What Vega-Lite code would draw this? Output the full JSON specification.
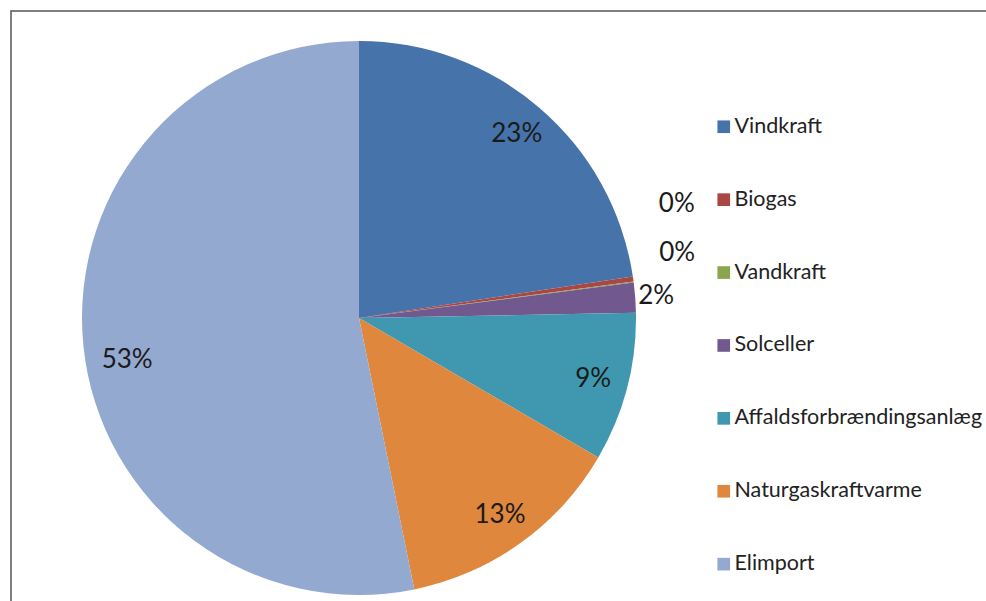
{
  "$schema": "https://vega.github.io/schema/vega-lite/v6.json",
  "autosize": "none",
  "width": 990,
  "height": 620,
  "padding": {"left": 11, "top": 11, "right": 0, "bottom": 0},
  "background": "white",
  "config": {
    "view": {"stroke": "#555555", "strokeWidth": 1.5},
    "font": "Lato",
    "text": {"font": "Lato"}
  },
  "data": {
    "values": [
      {"i": 1, "source": "Vindkraft", "share": 0.226},
      {"i": 2, "source": "Biogas", "share": 0.003},
      {"i": 3, "source": "Vandkraft", "share": 0.0005},
      {"i": 4, "source": "Solceller", "share": 0.0175},
      {"i": 5, "source": "Affaldsforbrændingsanlæg", "share": 0.087},
      {"i": 6, "source": "Naturgaskraftvarme", "share": 0.134},
      {"i": 7, "source": "Elimport", "share": 0.532}
    ]
  },
  "encoding": {
    "theta": {"field": "share", "type": "quantitative", "stack": true},
    "order": {"field": "i", "type": "quantitative"}
  },
  "layer": [
    {
      "mark": {"type": "arc", "outerRadius": 277, "stroke": null},
      "encoding": {
        "x": {"value": 348},
        "y": {"value": 307},
        "color": {
          "field": "source",
          "type": "nominal",
          "scale": {
            "domain": ["Vindkraft", "Biogas", "Vandkraft", "Solceller", "Affaldsforbrændingsanlæg", "Naturgaskraftvarme", "Elimport"],
            "range": ["#4673A9", "#AA4643", "#89A54E", "#71588F", "#3F98AF", "#DF873D", "#94A9D0"]
          },
          "legend": {
            "title": null,
            "orient": "none",
            "legendX": 702,
            "legendY": 105,
            "padding": 0,
            "symbolType": "square",
            "symbolSize": 160,
            "symbolStrokeWidth": 0,
            "labelFont": "Lato",
            "labelFontSize": 21.5,
            "labelColor": "#222222",
            "labelOffset": 0,
            "labelLimit": 400,
            "rowPadding": 49.9
          }
        }
      }
    },
    {
      "mark": {"type": "text", "radius": 242, "fontSize": 26, "baseline": "middle", "color": "#1a1a1a", "font": "Lato"},
      "encoding": {
        "x": {"value": 348},
        "y": {"value": 307},
        "text": {
          "condition": {"test": "datum.source == 'Vindkraft' || datum.source == 'Affaldsforbrændingsanlæg' || datum.source == 'Naturgaskraftvarme'", "field": "share", "type": "quantitative", "format": ".0%"},
          "value": ""
        }
      }
    },
    {
      "mark": {"type": "text", "radius": 240, "dx": 7, "dy": 18, "fontSize": 26, "baseline": "middle", "color": "#1a1a1a", "font": "Lato"},
      "encoding": {
        "x": {"value": 348},
        "y": {"value": 307},
        "text": {
          "condition": {"test": "datum.source == 'Elimport'", "field": "share", "type": "quantitative", "format": ".0%"},
          "value": ""
        }
      }
    },
    {
      "mark": {"type": "text", "radius": 298, "fontSize": 26, "baseline": "middle", "color": "#1a1a1a", "font": "Lato"},
      "encoding": {
        "x": {"value": 348},
        "y": {"value": 307},
        "text": {
          "condition": {"test": "datum.source == 'Solceller'", "field": "share", "type": "quantitative", "format": ".0%"},
          "value": ""
        }
      }
    },
    {
      "mark": {"type": "text", "radius": 325, "dx": -4, "dy": -68, "fontSize": 26, "baseline": "middle", "color": "#1a1a1a", "font": "Lato"},
      "encoding": {
        "x": {"value": 348},
        "y": {"value": 307},
        "text": {
          "condition": {"test": "datum.source == 'Biogas'", "field": "share", "type": "quantitative", "format": ".0%"},
          "value": ""
        }
      }
    },
    {
      "mark": {"type": "text", "radius": 325, "dx": -4, "dy": -23, "fontSize": 26, "baseline": "middle", "color": "#1a1a1a", "font": "Lato"},
      "encoding": {
        "x": {"value": 348},
        "y": {"value": 307},
        "text": {
          "condition": {"test": "datum.source == 'Vandkraft'", "field": "share", "type": "quantitative", "format": ".0%"},
          "value": ""
        }
      }
    }
  ]
}
